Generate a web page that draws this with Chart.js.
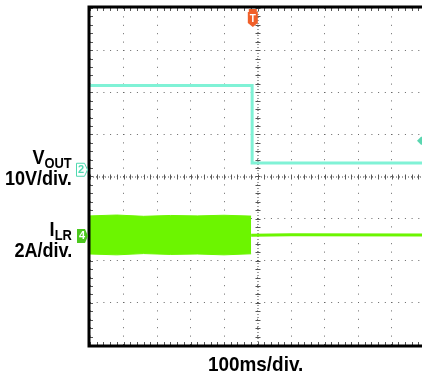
<!DOCTYPE html>
<html>
<head>
<meta charset="utf-8">
<script src="https://cdn.jsdelivr.net/npm/chart.js@4"></script>
<style>
html, body { margin: 0; padding: 0; background: #fff; overflow: hidden; width: 422px; height: 377px; }
#wrap { position: absolute; left: 0; top: 0; width: 432px; height: 377px; }
.lbl { position: absolute; font-family: "Liberation Sans", Arial, sans-serif; font-weight: bold; color: #000;
       white-space: nowrap; line-height: 20px; transform-origin: right center; }
.sub { font-size: 15px; position: relative; top: 4px; }
</style>
</head>
<body>
<div id="wrap"><canvas id="scope"></canvas></div>

<div class="lbl" style="right:350px; top:147px; font-size:21px; transform:scaleX(0.86)">V<span class="sub">OUT</span></div>
<div class="lbl" style="right:350px; top:168px; font-size:21px; transform:scaleX(0.86)">10V/div.</div>
<div class="lbl" style="right:350px; top:219px; font-size:21px; transform:scaleX(0.86)">I<span class="sub">LR</span></div>
<div class="lbl" style="right:350px; top:240px; font-size:21px; transform:scaleX(0.86)">2A/div.</div>
<div class="lbl" style="left:208px; top:354px; font-size:21px; transform:scaleX(0.9); transform-origin:left center">100ms/div.</div>

<script>
// Réglages de l'oscilloscope (100ms/div, 10V/div, 2A/div)
const MS_PER_DIV = 100;
const VOLT_PER_DIV = 10;
const AMP_PER_DIV = 2;
const CH2_OFFSET = 0.16;   // position du zéro de la voie 2 (en divisions)
const CH4_OFFSET = -1.41;  // position du zéro de la voie 4 (en divisions)
const TRIG_TIME = -14;     // ms
const TRIG_LEVEL = 0.85;   // div

// Voie 2 : VOUT
const vTimes = [-500, -16, -16, 500];
const vValues = [20, 20, 1.6, 1.6];

// Voie 4 : ILR (enveloppe du bruit avant la coupure, puis ligne)
const iBandTimes = [-500, -420, -340, -260, -180, -100, -19];
const iBandHigh = [0.95, 0.99, 0.93, 0.97, 0.95, 0.98, 0.94];
const iBandLow = [-0.86, -0.9, -0.84, -0.88, -0.86, -0.9, -0.85];
const iAfterTimes = [-19, 100, 500];
const iAfterValues = [0.03, 0.05, 0.04];

const toPts = (ts, vs, perDiv, off) => ts.map((t, i) => ({ x: t, y: vs[i] / perDiv + off }));

// Décor : cadre, graduations, repères des voies et du trigger
const scopeDecor = {
    id: 'scopeDecor',
    beforeDatasetsDraw(chart) {
        const { ctx, chartArea: a, scales: { x, y } } = chart;
        const cx = x.getPixelForValue(0);
        const cy = y.getPixelForValue(0);
        ctx.save();
        ctx.strokeStyle = '#444';
        ctx.lineWidth = 1;
        ctx.setLineDash([1, 2]);
        ctx.beginPath();
        ctx.moveTo(cx + 0.5, a.top); ctx.lineTo(cx + 0.5, a.bottom);
        ctx.moveTo(a.left, cy + 0.5); ctx.lineTo(a.right, cy + 0.5);
        ctx.stroke();
        ctx.setLineDash([]);
        ctx.strokeStyle = '#555';
        ctx.beginPath();
        for (let v = -4; v <= 4.001; v += 0.2) {
            const py = Math.round(y.getPixelForValue(v)) + 0.5;
            ctx.moveTo(cx - 2, py); ctx.lineTo(cx + 3, py);
            ctx.moveTo(a.left, py); ctx.lineTo(a.left + 3, py);
        }
        for (let t = -500; t <= 500.01; t += MS_PER_DIV / 5) {
            const px = Math.round(x.getPixelForValue(t)) + 0.5;
            ctx.moveTo(px, cy - 2); ctx.lineTo(px, cy + 3);
            ctx.moveTo(px, a.top); ctx.lineTo(px, a.top + 3);
            ctx.moveTo(px, a.bottom - 3); ctx.lineTo(px, a.bottom);
        }
        ctx.stroke();
        ctx.restore();
    },
    afterDraw(chart) {
        const { ctx, chartArea: a, scales: { x, y } } = chart;
        ctx.save();
        // cadre noir
        ctx.strokeStyle = '#000';
        ctx.lineWidth = 3;
        ctx.strokeRect(a.left - 1, a.top - 1, a.right - a.left + 2, a.bottom - a.top + 2);

        // repère voie 2
        const y2 = y.getPixelForValue(CH2_OFFSET);
        ctx.fillStyle = '#fff';
        ctx.strokeStyle = '#4fd9b0';
        ctx.lineWidth = 1;
        ctx.beginPath();
        ctx.moveTo(76.5, y2 - 6.5); ctx.lineTo(84.5, y2 - 6.5); ctx.lineTo(87.5, y2);
        ctx.lineTo(84.5, y2 + 6.5); ctx.lineTo(76.5, y2 + 6.5); ctx.closePath();
        ctx.fill(); ctx.stroke();
        ctx.fillStyle = '#4fd9b0';
        ctx.font = 'bold 11px "Liberation Sans", Arial';
        ctx.textAlign = 'center'; ctx.textBaseline = 'middle';
        ctx.fillText('2', 81, y2 + 0.5);

        // repère voie 4
        const y4 = y.getPixelForValue(CH4_OFFSET);
        ctx.fillStyle = '#4cc81e';
        ctx.beginPath();
        ctx.moveTo(77, y4 - 7); ctx.lineTo(85, y4 - 7); ctx.lineTo(88, y4);
        ctx.lineTo(85, y4 + 7); ctx.lineTo(77, y4 + 7); ctx.closePath();
        ctx.fill();
        ctx.fillStyle = '#fff';
        ctx.fillText('4', 82, y4 + 0.5);

        // trigger (T)
        const tx = x.getPixelForValue(TRIG_TIME);
        ctx.fillStyle = '#f0602a';
        ctx.beginPath();
        ctx.moveTo(tx - 4, a.top + 1); ctx.lineTo(tx + 4, a.top + 1); ctx.lineTo(tx + 4, a.top + 4);
        ctx.lineTo(tx + 5, a.top + 4); ctx.lineTo(tx + 5, a.top + 15); ctx.lineTo(tx, a.top + 19);
        ctx.lineTo(tx - 5, a.top + 15); ctx.lineTo(tx - 5, a.top + 4); ctx.lineTo(tx - 4, a.top + 4);
        ctx.closePath();
        ctx.fill();
        ctx.fillStyle = '#fff';
        ctx.font = 'bold 10px "Liberation Sans", Arial';
        ctx.fillText('T', tx, a.top + 11);

        // niveau de trigger
        const ty = y.getPixelForValue(TRIG_LEVEL);
        ctx.fillStyle = '#5ad6b0';
        ctx.beginPath();
        ctx.moveTo(417, ty); ctx.lineTo(421, ty - 4); ctx.lineTo(426, ty - 4);
        ctx.lineTo(426, ty + 4); ctx.lineTo(421, ty + 4); ctx.closePath();
        ctx.fill();
        ctx.restore();
    }
};

const ctx = document.getElementById('scope').getContext('2d');
new Chart(ctx, {
    type: 'line',
    data: {
        datasets: [
            {
                label: 'ILR haut',
                data: toPts(iBandTimes, iBandHigh, AMP_PER_DIV, CH4_OFFSET),
                borderColor: '#6cf500',
                backgroundColor: '#6cf500',
                borderWidth: 1,
                pointRadius: 0,
                fill: '+1'
            },
            {
                label: 'ILR bas',
                data: toPts(iBandTimes, iBandLow, AMP_PER_DIV, CH4_OFFSET),
                borderColor: '#6cf500',
                borderWidth: 1,
                pointRadius: 0,
                fill: false
            },
            {
                label: 'ILR',
                data: toPts(iAfterTimes, iAfterValues, AMP_PER_DIV, CH4_OFFSET),
                borderColor: '#6cf500',
                borderWidth: 3,
                pointRadius: 0,
                fill: false
            },
            {
                label: 'VOUT',
                data: toPts(vTimes, vValues, VOLT_PER_DIV, CH2_OFFSET),
                borderColor: '#80f2d6',
                borderWidth: 3,
                pointRadius: 0,
                fill: false
            }
        ]
    },
    options: {
        responsive: true,
        maintainAspectRatio: false,
        animation: false,
        events: [],
        layout: { padding: { left: 90, top: 8, right: 7, bottom: 32 } },
        plugins: { legend: { display: false }, tooltip: { enabled: false } },
        scales: {
            x: {
                type: 'linear',
                min: -500, max: 500,
                ticks: { display: false, stepSize: MS_PER_DIV },
                grid: { color: '#666', lineWidth: 1, drawTicks: false },
                border: { display: false, dash: [1, 7.4] }
            },
            y: {
                type: 'linear',
                min: -4, max: 4,
                ticks: { display: false, stepSize: 1 },
                grid: { color: '#666', lineWidth: 1, drawTicks: false },
                border: { display: false, dash: [1, 5.7] }
            }
        }
    },
    plugins: [scopeDecor]
});
</script>
</body>
</html>
